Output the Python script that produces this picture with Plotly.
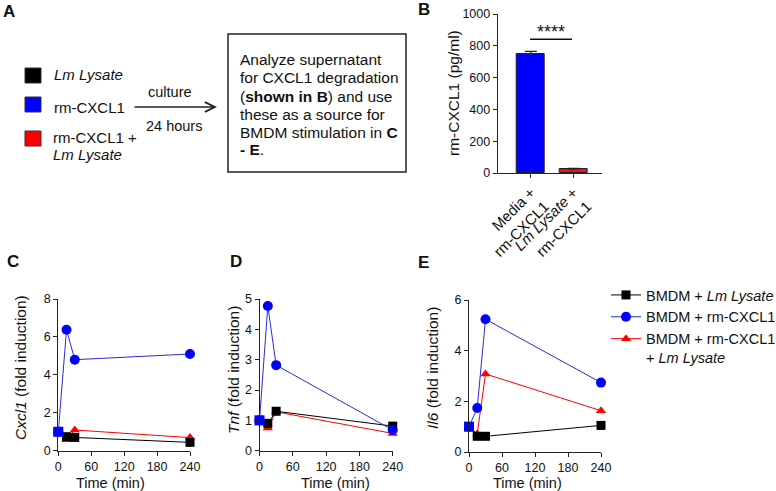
import plotly.graph_objects as go

W, H = 776, 491
FONT = "Liberation Sans, Arial, sans-serif"

# panel B: rm-CXCL1 remaining after 24 h culture
b_groups = ["Media +<br>rm-CXCL1", "<i>Lm Lysate</i> +<br>rm-CXCL1"]
b_values = [750, 25]
b_sem = [15, 5]
b_colors = ["#0000FF", "#E8141B"]

# panels C-E: fold induction over time
time_min = [0, 15, 30, 240]
cxcl1_lysate = [1, 0.74, 0.70, 0.44]
cxcl1_cxcl1 = [1, 6.38, 4.80, 5.10]
cxcl1_both = [1, 0.58, 1.09, 0.69]
tnf_lysate = [1, 0.90, 1.30, 0.81]
tnf_cxcl1 = [1, 4.77, 2.82, 0.68]
tnf_both = [1, 0.75, 1.28, 0.57]
il6_lysate = [1, 0.62, 0.62, 1.05]
il6_cxcl1 = [1, 1.74, 5.24, 2.74]
il6_both = [1, 0.72, 3.08, 1.63]

series_names = ["BMDM + <i>Lm Lysate</i>", "BMDM + rm-CXCL1",
                "BMDM + rm-CXCL1<br>+ <i>Lm Lysate</i>"]

box_lines = ["Analyze supernatant", "for CXCL1 degradation",
             "(<b>shown in B</b>) and use", "these as a source for",
             "BMDM stimulation in <b>C</b>", "<b>- E</b>."]


def fx(px):
    return px / W


def fy(py):
    return 1 - py / H


fig = go.Figure()

# ---- panel B bars
fig.add_trace(go.Bar(
    x=[0, 1], y=b_values, width=0.66,
    marker=dict(color=b_colors, line=dict(color="#222", width=1)),
    error_y=dict(type="data", array=b_sem, arrayminus=[0, 0], color="#222",
                 thickness=1.2, width=6),
    xaxis="x", yaxis="y", showlegend=False))

# ---- panels C-E lines
panels = [
    ("x2", "y2", cxcl1_lysate, cxcl1_cxcl1, cxcl1_both, True),
    ("x3", "y3", tnf_lysate, tnf_cxcl1, tnf_both, False),
    ("x4", "y4", il6_lysate, il6_cxcl1, il6_both, False),
]
for xa, ya, lys, cx, both, show in panels:
    # draw order: red, black, blue so that overlaps match the figure
    fig.add_trace(go.Scatter(
        x=time_min, y=both, mode="lines+markers", name=series_names[2],
        line=dict(color="#FF0000", width=1),
        marker=dict(symbol="triangle-up", size=9, color="#FF0000"),
        legendgroup="c", legendrank=3, showlegend=show, cliponaxis=False,
        xaxis=xa, yaxis=ya))
    fig.add_trace(go.Scatter(
        x=time_min, y=lys, mode="lines+markers", name=series_names[0],
        line=dict(color="#000000", width=1),
        marker=dict(symbol="square", size=9, color="#000000"),
        legendgroup="a", legendrank=1, showlegend=show, cliponaxis=False,
        xaxis=xa, yaxis=ya))
    fig.add_trace(go.Scatter(
        x=time_min, y=cx, mode="lines+markers", name=series_names[1],
        line=dict(color="#2a2ad8", width=1),
        marker=dict(symbol="circle", size=10, color="#0000FF"),
        legendgroup="b", legendrank=2, showlegend=show, cliponaxis=False,
        xaxis=xa, yaxis=ya))
    # common baseline point at t=0
    fig.add_trace(go.Scatter(
        x=time_min[:1], y=cx[:1], mode="markers",
        marker=dict(symbol="square", size=10, color="#0000FF"),
        showlegend=False, cliponaxis=False, xaxis=xa, yaxis=ya))

ax_common = dict(showline=True, linecolor="#222", linewidth=1, ticks="outside",
                 ticklen=4, tickwidth=1, tickcolor="#222", showgrid=False,
                 zeroline=False, automargin=False,
                 tickfont=dict(size=12.5, color="#111", family=FONT))

fig.update_layout(
    xaxis=dict(domain=[fx(497.7), fx(601.7)], range=[-0.78, 1.665], anchor="y",
               tickmode="array", tickvals=[0, 1], ticktext=b_groups,
               tickangle=-45, **{**ax_common, "tickfont": dict(size=15, color="#111", family=FONT)}),
    yaxis=dict(domain=[fy(173), fy(14)], range=[0, 1000], anchor="x",
               tickvals=[0, 200, 400, 600, 800, 1000], **ax_common),
    xaxis2=dict(domain=[fx(58.3), fx(190)], range=[0, 240], anchor="y2",
                tickvals=[0, 60, 120, 180, 240], **ax_common),
    yaxis2=dict(domain=[fy(450.7), fy(299)], range=[0, 8], anchor="x2",
                tickvals=[0, 2, 4, 6, 8], **ax_common),
    xaxis3=dict(domain=[fx(259.5), fx(392.7)], range=[0, 240], anchor="y3",
                tickvals=[0, 60, 120, 180, 240], **ax_common),
    yaxis3=dict(domain=[fy(450.7), fy(299)], range=[0, 5], anchor="x3",
                tickvals=[0, 1, 2, 3, 4, 5], **ax_common),
    xaxis4=dict(domain=[fx(469), fx(601)], range=[0, 240], anchor="y4",
                tickvals=[0, 60, 120, 180, 240], **ax_common),
    yaxis4=dict(domain=[fy(452), fy(300)], range=[0, 6], anchor="x4",
                tickvals=[0, 2, 4, 6], **ax_common),
)

ann = []


def text(x, y, t, size=14.5, **kw):
    d = dict(x=fx(x), y=fy(y), xref="paper", yref="paper", text=t,
             xanchor="center", yanchor="middle", showarrow=False,
             font=dict(size=size, color="#111", family=FONT))
    d.update(kw)
    ann.append(d)


# panel letters
for letter, x, y in [("A", 9, 12), ("B", 424, 10), ("C", 13, 261),
                     ("D", 236, 261), ("E", 424, 262)]:
    text(x, y, "<b>" + letter + "</b>", size=17)

# axis titles
text(453, 93, "rm-CXCL1 (pg/ml)", size=15.5, textangle=-90)
text(20, 368, "<i>Cxcl1</i> (fold induction)", size=15.5, textangle=-90)
text(233, 370, "<i>Tnf</i> (fold induction)", size=15.5, textangle=-90)
text(432, 368, "<i>Il6</i> (fold induction)", size=15.5, textangle=-90)
for cx in [110, 335, 527]:
    text(cx, 483, "Time (min)")

# significance
text(551, 32, "****", size=18)

# schematic in panel A
text(52, 75, "<i>Lm Lysate</i>", size=15, xanchor="left")
text(52, 107, "rm-CXCL1", size=15, xanchor="left")
text(51, 137, "rm-CXCL1 +", size=15, xanchor="left")
text(51, 154, "<i>Lm Lysate</i>", size=15, xanchor="left")
text(170, 92, "culture")
text(174, 126, "24 hours")
for i, line in enumerate(box_lines):
    text(238, 60 + 18 * i, line, size=15.5, xanchor="left")
ann.append(dict(x=fx(217), y=fy(107), xref="paper", yref="paper", ax=-84, ay=0,
                showarrow=True, arrowhead=5, arrowsize=1.3, arrowwidth=1.5,
                arrowcolor="#222", text=""))

shapes = [
    dict(type="rect", xref="paper", yref="paper", x0=fx(228), x1=fx(406),
         y0=fy(172), y1=fy(34), line=dict(color="#222", width=1.5)),
    dict(type="line", xref="paper", yref="paper", x0=fx(530), x1=fx(572),
         y0=fy(39.3), y1=fy(39.3), line=dict(color="#111", width=1.5)),
]
for y0, col in [(68, "#000000"), (97, "#0000FF"), (131, "#FF0000")]:
    shapes.append(dict(type="rect", xref="paper", yref="paper", x0=fx(25),
                       x1=fx(41), y0=fy(y0 + 15), y1=fy(y0), fillcolor=col,
                       line=dict(color="#333", width=1)))

fig.update_layout(
    template="none",
    width=W, height=H, margin=dict(l=0, r=0, t=0, b=0, autoexpand=False),
    paper_bgcolor="white", plot_bgcolor="white",
    font=dict(family=FONT, color="#111"),
    annotations=ann, shapes=shapes, bargap=0,
    legend=dict(x=fx(606), y=fy(279), xanchor="left", yanchor="top",
                valign="top", font=dict(size=14.5, family=FONT, color="#111"),
                bgcolor="rgba(0,0,0,0)", tracegroupgap=0),
)

# drop the browser's default body margin so the figure fills the window
fig.write_html("out.html", config=dict(displayModeBar=False),
               post_script="document.body.style.margin='0';")
